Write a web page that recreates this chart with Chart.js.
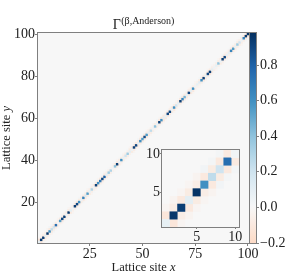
<!DOCTYPE html>
<html><head><meta charset="utf-8">
<script src="https://cdn.jsdelivr.net/npm/chart.js@4.4.1/dist/chart.umd.min.js"></script>
<style>
html,body{margin:0;padding:0;background:#fff;}
#wrap{position:relative;width:293px;height:274px;overflow:hidden;}
canvas{position:absolute;display:block;}
</style></head><body>
<div id="wrap">
<canvas id="main" width="293" height="274" style="left:0;top:0;width:293px;height:274px"></canvas>
<canvas id="cb" width="49" height="274" style="left:244px;top:0;width:49px;height:274px"></canvas>
<canvas id="inset" width="125" height="112" style="left:128px;top:138px;width:125px;height:112px"></canvas>
</div>
<script>
// ---------------- data ----------------
// Γ(i,i) for lattice sites 1..100
const diagonal = [
0.08,0.95,0.93,0.10,0.97,0.60,0.25,0.20,0.75,0.03,
0.55,0.90,0.92,0.05,0.95,0.10,0.04,0.93,0.90,0.60,
0.06,0.65,0.15,0.55,0.08,0.30,0.05,0.92,0.60,0.70,
0.90,0.80,0.10,0.35,0.30,0.04,0.40,0.93,0.06,0.60,
0.08,0.20,0.35,0.10,0.06,0.92,0.90,0.10,0.60,0.55,
0.88,0.55,0.10,0.25,0.05,0.40,0.06,0.92,0.60,0.10,
0.08,0.90,0.88,0.06,0.60,0.20,0.10,0.92,0.65,0.45,
0.08,0.90,0.10,0.60,0.05,0.08,0.12,0.60,0.93,0.08,
0.90,0.92,0.10,0.05,0.08,0.40,0.06,0.93,0.90,0.08,
0.10,0.65,0.55,0.08,0.35,0.20,0.06,0.65,0.95,0.97
];
// Γ(i,i+1) = Γ(i+1,i), i = 1..99
const offDiag1 = [
-0.12,-0.07,-0.10,-0.08,-0.07,-0.10,-0.08,-0.10,-0.09,-0.06,
-0.10,-0.08,-0.06,-0.09,-0.10,-0.05,-0.07,-0.09,-0.10,-0.08,
-0.09,-0.10,-0.08,-0.09,-0.06,-0.07,-0.09,-0.11,-0.08,-0.10,
-0.08,-0.10,-0.07,-0.06,-0.04,-0.05,-0.08,-0.09,-0.07,-0.08,
-0.06,-0.07,-0.05,-0.08,-0.09,-0.08,-0.10,-0.09,-0.10,-0.08,
-0.11,-0.09,-0.07,-0.06,-0.04,-0.07,-0.08,-0.09,-0.11,-0.10,
-0.09,-0.10,-0.08,-0.11,-0.09,-0.05,-0.08,-0.11,-0.10,-0.09,
-0.08,-0.10,-0.09,-0.07,-0.04,-0.05,-0.08,-0.10,-0.09,-0.08,
-0.11,-0.09,-0.06,-0.04,-0.06,-0.08,-0.07,-0.10,-0.09,-0.06,
-0.07,-0.10,-0.09,-0.07,-0.08,-0.06,-0.07,-0.10,-0.11
];
// Γ(i,i+2) = Γ(i+2,i), i = 1..98
const offDiag2 = [
-0.02,-0.03,-0.02,-0.02,-0.03,0.03,0.02,0.02,-0.01,-0.02,
0.01,-0.02,-0.02,0.01,-0.02,-0.01,0.01,-0.02,-0.01,0.02,
-0.02,0.01,-0.01,-0.02,0.01,-0.02,-0.01,0.02,-0.02,-0.01,
0.01,-0.02,-0.01,0.01,-0.01,-0.02,0.01,-0.02,-0.01,0.01,
-0.02,-0.01,0.01,-0.02,0.01,-0.02,-0.01,0.02,-0.02,-0.01,
0.01,-0.02,-0.01,0.01,-0.02,-0.01,0.02,-0.02,-0.01,0.01,
-0.02,0.01,-0.02,-0.01,0.01,-0.02,-0.01,0.02,-0.02,-0.01,
0.01,-0.02,-0.01,0.01,-0.02,-0.01,0.02,-0.02,0.01,-0.01,
-0.02,0.01,-0.02,-0.01,0.01,-0.02,-0.01,0.02,-0.02,-0.01,
0.01,-0.02,-0.01,0.01,-0.02,-0.01,0.02,-0.01
];
const xTicks = [25, 50, 75, 100];
const yTicks = [20, 40, 60, 80, 100];
const insetTicks = [5, 10];
const cbTicks = [-0.2, 0, 0.2, 0.4, 0.6, 0.8];
const cbMin = -0.2, cbMax = 0.98;
const titleMain = 'Γ', titleSup = '(β,Anderson)';
const xLabel = ['Lattice site ', 'x'];
const yLabel = ['Lattice site ', 'y'];

// ---------------- style helpers ----------------
const FONT = '"Liberation Serif", "DejaVu Serif", serif';
const TEXT = '#222';
const EDGE = '#7f7f7f';
const RDBU = ['#67001f','#b2182b','#d6604d','#f4a582','#fddbc7','#f7f7f7','#d1e5f0','#92c5de','#4393c3','#2166ac','#053061'];
const RGB = RDBU.map(h => [1,3,5].map(i => parseInt(h.substr(i,2),16)));
function colorFor(v){
  let t = 0.5 + v / (2 * cbMax);
  t = Math.max(0, Math.min(1, t));
  const p = t * 10, k = Math.min(9, Math.floor(p)), f = p - k;
  const c = RGB[k].map((a, j) => Math.round(a + (RGB[k+1][j] - a) * f));
  return `rgb(${c[0]},${c[1]},${c[2]})`;
}

function buildCells(limit){
  const cells = [];
  const n = diagonal.length;
  offDiag2.forEach((v, k) => { const i = k + 1, j = k + 3;
    if (j <= limit) { cells.push({x:i, y:j, v}); cells.push({x:j, y:i, v}); } });
  offDiag1.forEach((v, k) => { const i = k + 1, j = k + 2;
    if (j <= limit) { cells.push({x:i, y:j, v}); cells.push({x:j, y:i, v}); } });
  diagonal.forEach((v, k) => { if (k + 1 <= limit) cells.push({x:k+1, y:k+1, v}); });
  return cells;
}

function cellRadius(ctx){
  const s = ctx.chart.scales && ctx.chart.scales.x;
  if (!s || !isFinite(s.getPixelForValue(1))) return 1;
  const w = Math.abs(s.getPixelForValue(1) - s.getPixelForValue(0));
  return (w + 0.35) / Math.SQRT2;
}

const framePlugin = {
  id: 'frame',
  beforeDatasetsDraw(chart){
    const a = chart.chartArea, ctx = chart.ctx;
    ctx.save(); ctx.fillStyle = colorFor(0);
    ctx.fillRect(a.left, a.top, a.right - a.left, a.bottom - a.top);
    ctx.restore();
  },
  afterDatasetsDraw(chart){
    const a = chart.chartArea, ctx = chart.ctx;
    ctx.save(); ctx.strokeStyle = EDGE; ctx.lineWidth = 1;
    ctx.strokeRect(Math.round(a.left) - 0.5, Math.round(a.top) - 0.5,
                   Math.round(a.right - a.left) + 1, Math.round(a.bottom - a.top) + 1);
    ctx.restore();
  }
};

function zeroPad(scale){ scale.paddingLeft = scale.paddingRight = scale.paddingTop = scale.paddingBottom = 0; }

function heatDataset(limit){
  return {
    data: buildCells(limit),
    pointStyle: 'rect',
    radius: cellRadius,
    hoverRadius: cellRadius,
    borderWidth: 0,
    hoverBorderWidth: 0,
    backgroundColor: ctx => ctx.raw ? colorFor(ctx.raw.v) : '#000',
    hoverBackgroundColor: ctx => ctx.raw ? colorFor(ctx.raw.v) : '#000'
  };
}

function axis(min, max, ticks, size, isX, tickLen){
  return {
    type: 'linear', min, max,
    afterBuildTicks: s => { s.ticks = ticks.map(v => ({value: v})); },
    afterFit: s => { if (isX) s.height = size; else s.width = size; zeroPad(s); },
    ticks: { autoSkip: false, maxRotation: 0, padding: 0, color: TEXT,
             font: { family: FONT, size: 14 }, callback: v => String(v) },
    grid: { display: true, drawOnChartArea: false, drawTicks: true, tickLength: tickLen, color: EDGE, lineWidth: 1 },
    border: { display: false }
  };
}

// ---------------- main heatmap ----------------
const labelPlugin = {
  id: 'labels',
  afterDraw(chart){
    const ctx = chart.ctx, a = chart.chartArea;
    const cx = (a.left + a.right) / 2, cy = (a.top + a.bottom) / 2;
    ctx.save(); ctx.fillStyle = TEXT; ctx.textAlign = 'left'; ctx.textBaseline = 'alphabetic';
    // title
    ctx.font = `14px ${FONT}`; const w1 = ctx.measureText(titleMain).width;
    ctx.font = `10px ${FONT}`; const w2 = ctx.measureText(titleSup).width;
    const x0 = cx - (w1 + w2 + 0.5) / 2;
    ctx.font = `14px ${FONT}`; ctx.fillText(titleMain, x0, 29);
    ctx.font = `10px ${FONT}`; ctx.fillText(titleSup, x0 + w1 + 0.5, 24);
    // x label
    const drawLabel = (parts, x, y) => {
      ctx.font = `12.5px ${FONT}`; const wa = ctx.measureText(parts[0]).width;
      ctx.font = `italic 12.5px ${FONT}`; const wb = ctx.measureText(parts[1]).width;
      const s = x - (wa + wb) / 2;
      ctx.font = `12.5px ${FONT}`; ctx.fillText(parts[0], s, y);
      ctx.font = `italic 12.5px ${FONT}`; ctx.fillText(parts[1], s + wa, y);
    };
    drawLabel(xLabel, cx, 271);
    ctx.translate(9.5, cy); ctx.rotate(-Math.PI / 2);
    drawLabel(yLabel, 0, 0);
    ctx.restore();
  }
};

new Chart(document.getElementById('main'), {
  type: 'scatter',
  data: { datasets: [heatDataset(diagonal.length)] },
  options: {
    responsive: false, animation: false, events: [],
    layout: { padding: { left: 0, right: 44, top: 33, bottom: 0 } },
    plugins: { legend: { display: false }, tooltip: { enabled: false } },
    scales: {
      x: axis(0.5, 100.5, xTicks, 31, true, 3),
      y: axis(0.5, 100.5, yTicks, 38, false, 3)
    }
  },
  plugins: [framePlugin, labelPlugin]
});

// ---------------- colorbar ----------------
const gradientPlugin = {
  id: 'cbfill',
  beforeDatasetsDraw(chart){
    const a = chart.chartArea, ctx = chart.ctx, y = chart.scales.y;
    const yb = y.getPixelForValue(cbMin), yt = y.getPixelForValue(cbMax);
    const g = ctx.createLinearGradient(0, yb, 0, yt);
    const steps = 40;
    for (let k = 0; k <= steps; k++) {
      const v = cbMin + (cbMax - cbMin) * k / steps;
      g.addColorStop(k / steps, colorFor(v));
    }
    ctx.save(); ctx.fillStyle = g;
    ctx.fillRect(a.left, yt, a.right - a.left, yb - yt);
    ctx.strokeStyle = EDGE; ctx.lineWidth = 1;
    ctx.strokeRect(Math.round(a.left) - 0.5, Math.round(yt) - 0.5, Math.round(a.right - a.left) + 1, Math.round(yb - yt) + 1);
    ctx.restore();
  }
};
new Chart(document.getElementById('cb'), {
  type: 'scatter',
  data: { datasets: [{ data: [] }] },
  options: {
    responsive: false, animation: false, events: [],
    layout: { padding: { left: 6, right: 0, top: 33, bottom: 31 } },
    plugins: { legend: { display: false }, tooltip: { enabled: false } },
    scales: {
      x: { display: false, min: 0, max: 1 },
      y: {
        position: 'right', min: cbMin, max: cbMax,
        afterBuildTicks: s => { s.ticks = cbTicks.map(v => ({value: v})); },
        afterFit: s => { s.width = 37; zeroPad(s); },
        ticks: { autoSkip: false, padding: 1, color: TEXT, font: { family: FONT, size: 14 },
                 callback: v => (v < -1e-9 ? '\u2212' : '') + Math.abs(v).toFixed(1) },
        grid: { display: true, drawOnChartArea: false, drawTicks: true, tickLength: 3, color: EDGE },
        border: { display: false }
      }
    }
  },
  plugins: [gradientPlugin]
});

// ---------------- inset (first 10 sites) ----------------
new Chart(document.getElementById('inset'), {
  type: 'scatter',
  data: { datasets: [heatDataset(10)] },
  options: {
    responsive: false, animation: false, events: [],
    layout: { padding: { left: 0, right: 14, top: 12, bottom: 0 } },
    plugins: { legend: { display: false }, tooltip: { enabled: false } },
    scales: {
      x: axis(0.5, 10.5, insetTicks, 23, true, 2),
      y: axis(0.5, 10.5, insetTicks, 34, false, 2)
    }
  },
  plugins: [framePlugin]
});
</script>
</body></html>
